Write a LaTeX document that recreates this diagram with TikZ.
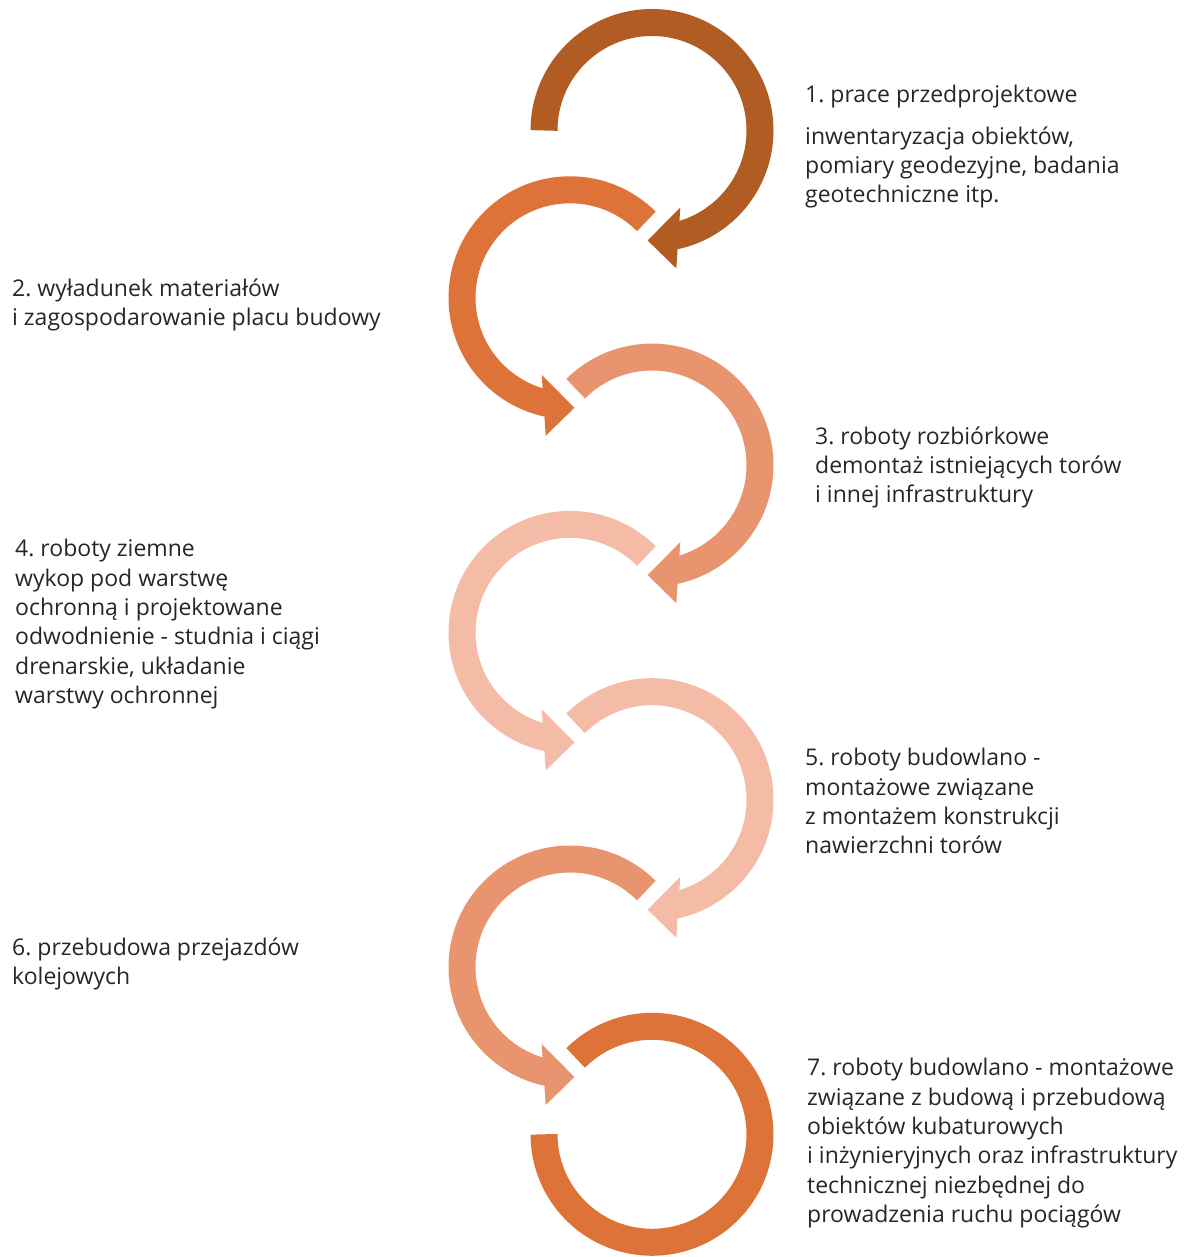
\documentclass[tikz,border=0pt]{standalone}
\usepackage{fontspec}
\setmainfont{Open Sans}
\usetikzlibrary{calc}

\definecolor{brownA}{RGB}{176,92,34}
\definecolor{orangeB}{RGB}{222,115,58}
\definecolor{salmonC}{RGB}{232,149,111}
\definecolor{peachD}{RGB}{244,188,167}
\definecolor{textgray}{RGB}{38,38,38}

\begin{document}
\frenchspacing
\begin{tikzpicture}[x=1pt,y=1pt,
    ring/.style={line width=27pt},
    steptext/.style={anchor=north west, inner sep=0pt, align=left, text=textgray,
        font=\fontsize{23}{29.3}\selectfont}]

    \useasboundingbox (0,0) rectangle (1185,1257);

    % Centres of the rings
    \coordinate (c1) at (652,1126.5);
    \coordinate (c2) at (570,959.2);
    \coordinate (c3) at (652,791.9);
    \coordinate (c4) at (570,624.6);
    \coordinate (c5) at (652,457.3);
    \coordinate (c6) at (570,290);
    \coordinate (c7) at (652,122.7);

    % Arrow 1
    \draw[ring, brownA] ($(c1)+(180:108)$) arc[start angle=180, end angle=-78, radius=108];
    \fill[brownA] ($(c1)+(-4.4,-110)$) -- ($(c1)+(28.3,-77)$) -- ($(c1)+(24.3,-138)$) -- cycle;

    % Arrow 2
    \draw[ring, orangeB] ($(c2)+(45:108)$) arc[start angle=45, end angle=258, radius=108];
    \fill[orangeB] ($(c2)+(4.4,-110)$) -- ($(c2)+(-28.3,-77)$) -- ($(c2)+(-24.3,-138)$) -- cycle;

    % Arrow 3
    \draw[ring, salmonC] ($(c3)+(135:108)$) arc[start angle=135, end angle=-78, radius=108];
    \fill[salmonC] ($(c3)+(-4.4,-110)$) -- ($(c3)+(28.3,-77)$) -- ($(c3)+(24.3,-138)$) -- cycle;

    % Arrow 4
    \draw[ring, peachD] ($(c4)+(45:108)$) arc[start angle=45, end angle=258, radius=108];
    \fill[peachD] ($(c4)+(4.4,-110)$) -- ($(c4)+(-28.3,-77)$) -- ($(c4)+(-24.3,-138)$) -- cycle;

    % Arrow 5
    \draw[ring, peachD] ($(c5)+(135:108)$) arc[start angle=135, end angle=-78, radius=108];
    \fill[peachD] ($(c5)+(-4.4,-110)$) -- ($(c5)+(28.3,-77)$) -- ($(c5)+(24.3,-138)$) -- cycle;

    % Arrow 6
    \draw[ring, salmonC] ($(c6)+(45:108)$) arc[start angle=45, end angle=258, radius=108];
    \fill[salmonC] ($(c6)+(4.4,-110)$) -- ($(c6)+(-28.3,-77)$) -- ($(c6)+(-24.3,-138)$) -- cycle;

    % Last ring, no head
    \draw[ring, orangeB] ($(c7)+(135:108)$) arc[start angle=135, end angle=-180, radius=108];

    % Texts
    \node[steptext] (t1) at (805,1171.7) {1. prace przedprojektowe\\[12pt]
        inwentaryzacja obiektów,\\ pomiary geodezyjne, badania\\ geotechniczne itp.};
    \node[steptext] (t2) at (12,978.7) {2. wyładunek materiałów\\
        i zagospodarowanie placu budowy};
    \node[steptext] (t3) at (815,830.7) {3. roboty rozbiórkowe\\
        demontaż istniejących torów\\ i innej infrastruktury};
    \node[steptext] (t4) at (15,717.7) {4. roboty ziemne\\ wykop pod warstwę\\
        ochronną i projektowane\\ odwodnienie - studnia i ciągi\\
        drenarskie, układanie\\ warstwy ochronnej};
    \node[steptext] (t5) at (805,508.7) {5. roboty budowlano -\\ montażowe związane\\
        z montażem konstrukcji\\ nawierzchni torów};
    \node[steptext] (t6) at (12,319.7) {6. przebudowa przejazdów\\ kolejowych};
    \node[steptext] (t7) at (807,198.7) {7. roboty budowlano - montażowe\\
        związane z budową i przebudową\\ obiektów kubaturowych\\
        i inżynieryjnych oraz infrastruktury\\ technicznej niezbędnej do\\
        prowadzenia ruchu pociągów};

\end{tikzpicture}
\end{document}
